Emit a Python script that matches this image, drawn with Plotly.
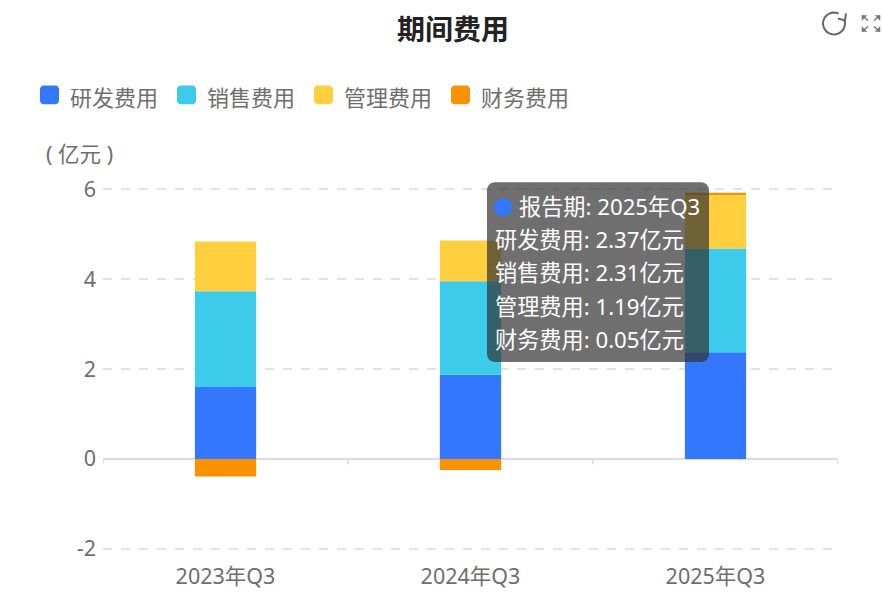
import math
import plotly.graph_objects as go

categories = ["2023年Q3", "2024年Q3", "2025年Q3"]
series_names = ["研发费用", "销售费用", "管理费用", "财务费用"]
rd = [1.60, 1.87, 2.37]
sales = [2.13, 2.08, 2.31]
admin = [1.11, 0.91, 1.19]
finance = [-0.39, -0.25, 0.05]
colors = ["#3377FF", "#3CCBEB", "#FFCF40", "#FA9200"]
y_ticks = [-2, 0, 2, 4, 6]
y_tick_text = ["-2", "0", "2", "4", "6"]
unit_label = "( 亿元 )"
title_text = "期间费用"
tooltip_period = "报告期"
FONT = "Noto Sans, Noto Sans CJK SC"
TEXT = "#6e6e6e"
W, H = 882, 605
L, R, T, B = 103, 838, 189, 549
EPS = 0.05  # keeps the outermost dashed gridlines drawn
PAD = EPS * (B - T) / 8


def px(x, y):
    return (x - L) / (R - L), (B + PAD - y) / (B - T + 2 * PAD)


def path(points, close=False):
    s = ""
    for i, (x, y) in enumerate(points):
        a, b = px(x, y)
        s += ("M" if i == 0 else "L") + f"{a:.5f},{b:.5f} "
    return s + ("Z" if close else "")


def rrect(x0, y0, x1, y1, r):
    pts = []
    for cx, cy, start in [(x1 - r, y0 + r, -90), (x1 - r, y1 - r, 0), (x0 + r, y1 - r, 90), (x0 + r, y0 + r, 180)]:
        for k in range(7):
            t = math.radians(start + 15 * k)
            pts.append((cx + r * math.cos(t), cy + r * math.sin(t)))
    return path(pts, True)


fig = go.Figure()
all_series = [rd, sales, admin, finance]
for name, vals, col in zip(series_names, all_series, colors):
    fig.add_trace(go.Bar(x=categories, y=vals, name=name, width=0.25, marker=dict(color=col, line_width=0),
                         hovertemplate="%{x}: %{y:.2f}亿元<extra>" + name + "</extra>"))

shapes = []
annotations = []

# x axis ticks that sit on the zero line
for i in range(len(categories) + 1):
    shapes.append(dict(type="line", xref="x", yref="y", x0=i - 0.5, x1=i - 0.5, y0=0, y1=-0.12,
                       line=dict(color="#dddddd", width=1.5), layer="below"))

# legend
swatch_x = [40, 177, 314, 451]
for x, name, col in zip(swatch_x, series_names, colors):
    shapes.append(dict(type="path", xref="paper", yref="paper", path=rrect(x, 85, x + 19, 104, 4),
                       fillcolor=col, line_width=0))
    a, b = px(x + 28, 97)
    annotations.append(dict(xref="paper", yref="paper", x=a, y=b, xanchor="left", yanchor="middle", showarrow=False,
                            text=name, font=dict(size=22, color=TEXT, family=FONT)))

# unit label
a, b = px(44, 153)
annotations.append(dict(xref="paper", yref="paper", x=a, y=b, xanchor="left", yanchor="middle", showarrow=False,
                        text=unit_label, font=dict(size=21.5, color=TEXT, family=FONT)))

# tooltip
shapes.append(dict(type="path", xref="paper", yref="paper", path=rrect(487, 182, 709, 362, 8),
                   fillcolor="rgba(50,50,50,0.7)", line_width=0))
cx, cy = px(503, 207)
rx, ry = 9 / (R - L), 9 / (B - T + 2 * PAD)
shapes.append(dict(type="circle", xref="paper", yref="paper", x0=cx - rx, x1=cx + rx, y0=cy - ry, y1=cy + ry,
                   fillcolor=colors[0], line_width=0))
idx = 2
lines = [(517, 206, f"{tooltip_period}: {categories[idx]}")]
for yy, name, vals in zip([239, 272, 306, 339], series_names, all_series):
    lines.append((493, yy, f"{name}: {vals[idx]:.2f}亿元"))
for x, y, txt in lines:
    a, b = px(x, y)
    annotations.append(dict(xref="paper", yref="paper", x=a, y=b, xanchor="left", yanchor="middle", showarrow=False,
                            text=txt, font=dict(size=22.2, color="#ffffff", family=FONT)))

# toolbar icons
icon = dict(color="#666666", width=2)
arc = [(834 + 11 * math.cos(math.radians(t)), 23 + 11 * math.sin(math.radians(t))) for t in range(-20, 300, 15)]
shapes.append(dict(type="path", xref="paper", yref="paper", path=path(arc), line=icon))
shapes.append(dict(type="path", xref="paper", yref="paper",
                   path=path([(846, 13), (845, 20), (838, 18)]), line=icon))
for sx, sy in [(-1, -1), (1, -1), (-1, 1), (1, 1)]:
    ox, oy = 871 + 9 * sx, 23 + 8 * sy
    ix, iy = 871 + 3 * sx, 23 + 3 * sy
    shapes.append(dict(type="path", xref="paper", yref="paper", path=path([(ox, oy), (ix, iy)]),
                       line=dict(color="#777777", width=1.5)))
    shapes.append(dict(type="path", xref="paper", yref="paper",
                       path=path([(ox - 5 * sx, oy), (ox, oy), (ox, oy - 5 * sy)]), fillcolor="#777777",
                       line=dict(color="#777777", width=0.5)))

fig.update_layout(
    width=W, height=H,
    margin=dict(l=L, r=W - R, t=T - PAD, b=H - B - PAD),
    paper_bgcolor="white", plot_bgcolor="white",
    barmode="relative", showlegend=False,
    font=dict(family=FONT, color=TEXT),
    title=dict(text=title_text, x=453 / W, xanchor="center", y=1 - 30 / H, yanchor="middle",
               font=dict(size=28, color="#222222", family=FONT, weight="bold")),
    xaxis=dict(type="category", showgrid=False, ticks="", showline=False, zeroline=False,
               tickfont=dict(size=21.5, color=TEXT), ticklabelstandoff=10, range=[-0.5, 2.5], fixedrange=True),
    yaxis=dict(range=[-2 - EPS, 6 + EPS], tickvals=y_ticks, ticktext=y_tick_text, showgrid=True,
               gridcolor="#e2e2e2", griddash="dash", gridwidth=1.5,
               zeroline=True, zerolinecolor="#dddddd", zerolinewidth=2, showline=False, ticks="",
               tickfont=dict(size=21.5, color=TEXT), ticklabelstandoff=6, fixedrange=True),
    shapes=shapes, annotations=annotations,
)
fig.write_html("out.html", config=dict(displayModeBar=False),
               post_script="document.body.style.margin='0';document.documentElement.style.overflow='hidden';")
